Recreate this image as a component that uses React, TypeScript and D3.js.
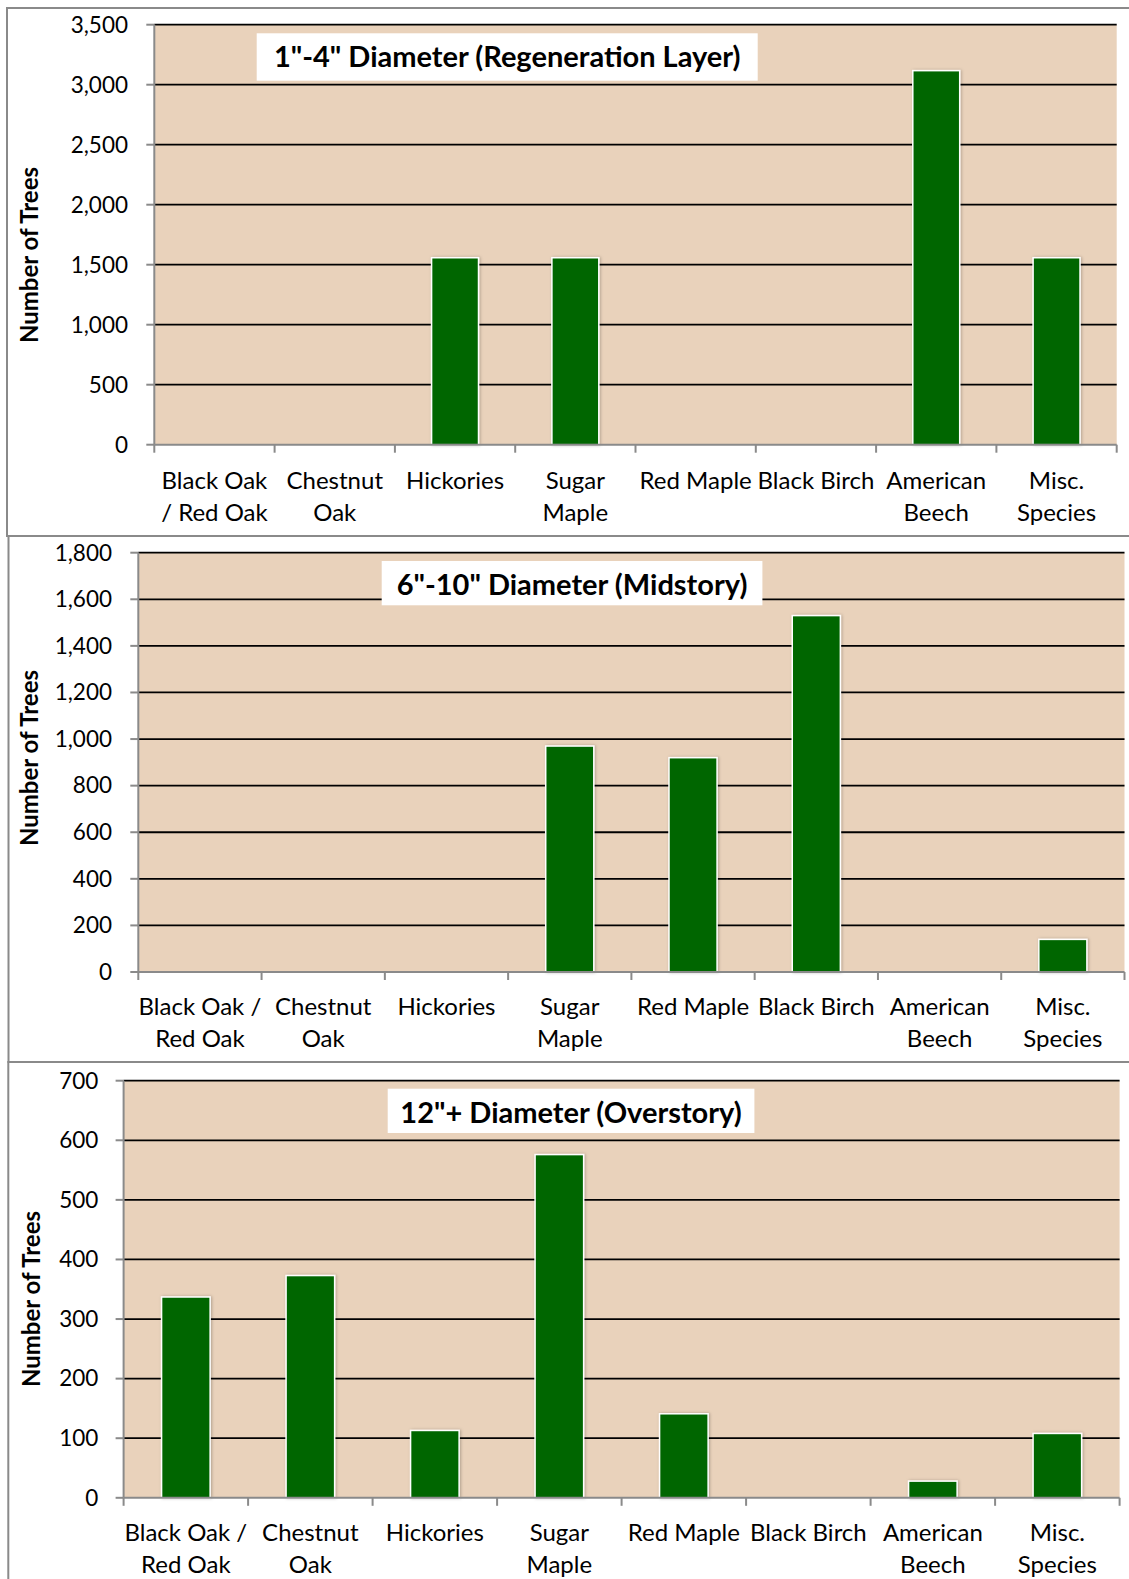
import React from "react";
import * as d3 from "d3";

// ---------- DATA ----------
const categories = [
  "Black Oak / Red Oak",
  "Chestnut Oak",
  "Hickories",
  "Sugar Maple",
  "Red Maple",
  "Black Birch",
  "American Beech",
  "Misc. Species",
];
const labelsTop: string[][] = [
  ["Black Oak", "/ Red Oak"],
  ["Chestnut", "Oak"],
  ["Hickories"],
  ["Sugar", "Maple"],
  ["Red Maple"],
  ["Black Birch"],
  ["American", "Beech"],
  ["Misc.", "Species"],
];
const labelsLower: string[][] = [
  ["Black Oak /", "Red Oak"],
  ["Chestnut", "Oak"],
  ["Hickories"],
  ["Sugar", "Maple"],
  ["Red Maple"],
  ["Black Birch"],
  ["American", "Beech"],
  ["Misc.", "Species"],
];
const regenValues = [0, 0, 1558, 1558, 0, 0, 3117, 1558];
const midValues = [0, 0, 0, 970, 920, 1530, 0, 140];
const overValues = [337, 373, 113, 576, 141, 0, 28, 108];

const regenTicks = [0, 500, 1000, 1500, 2000, 2500, 3000, 3500];
const midTicks = [0, 200, 400, 600, 800, 1000, 1200, 1400, 1600, 1800];
const overTicks = [0, 100, 200, 300, 400, 500, 600, 700];

const titles = [
  '1"-4" Diameter (Regeneration Layer)',
  '6"-10" Diameter (Midstory)',
  '12"+ Diameter (Overstory)',
];
const axisTitle = "Number of Trees";

// ---------- STYLE ----------
const FONT = "Lato, 'Open Sans', sans-serif";
const BG = "#E9D2BB";
const BAR = "#006600";
const GREY = "#8a8a8a";

type Panel = {
  values: number[];
  ticks: number[];
  labels: string[][];
  title: string;
  left: number;
  right: number;
  top: number;
  bottom: number;
  tickLabelRight: number;
  titleBox: [number, number, number, number];
  labelBase: number;
  axisTitleX: number;
  axisTitleY: number;
  border: [number, number, number, number];
};

const panels: Panel[] = [
  {
    values: regenValues,
    ticks: regenTicks,
    labels: labelsTop,
    title: titles[0],
    left: 154.3,
    right: 1116.7,
    top: 24.7,
    bottom: 444.7,
    tickLabelRight: 128,
    titleBox: [256.7, 33.3, 501, 47.4],
    labelBase: 489,
    axisTitleX: 30,
    axisTitleY: 255,
    border: [7, 8, 1200, 536],
  },
  {
    values: midValues,
    ticks: midTicks,
    labels: labelsLower,
    title: titles[1],
    left: 138.3,
    right: 1124.5,
    top: 552.7,
    bottom: 972,
    tickLabelRight: 112,
    titleBox: [381.7, 561, 380.7, 44.3],
    labelBase: 1015,
    axisTitleX: 30,
    axisTitleY: 758,
    border: [8.5, 536, 1200, 1062],
  },
  {
    values: overValues,
    ticks: overTicks,
    labels: labelsLower,
    title: titles[2],
    left: 123.6,
    right: 1119.6,
    top: 1080.7,
    bottom: 1497.8,
    tickLabelRight: 98.3,
    titleBox: [387.7, 1088.7, 366.7, 44.3],
    labelBase: 1541,
    axisTitleX: 32,
    axisTitleY: 1299,
    border: [8.3, 1062, 1200, 1700],
  },
];

const fmt = d3.format(",");

function ChartPanel({ p }: { p: Panel }) {
  const maxV = p.ticks[p.ticks.length - 1];
  const y = d3.scaleLinear().domain([0, maxV]).range([p.bottom, p.top]);
  const x = d3
    .scaleBand<string>()
    .domain(categories)
    .range([p.left, p.right])
    .paddingInner(0.61)
    .paddingOuter(0.305);
  const step = x.step();
  const edges = d3.range(categories.length + 1).map((i) => p.left + i * step);
  const [bx, by, bw, bh] = p.titleBox;
  const [x0, y0, x1, y1] = p.border;
  return (
    <g>
      <path
        d={`M${x1},${y0}H${x0}V${y1}H${x1}`}
        fill="none"
        stroke={GREY}
        strokeWidth={2}
      />
      <rect
        x={p.left}
        y={p.top}
        width={p.right - p.left}
        height={p.bottom - p.top}
        fill={BG}
      />
      {p.ticks.slice(1).map((t) => (
        <line
          key={"g" + t}
          x1={p.left}
          x2={p.right}
          y1={y(t)}
          y2={y(t)}
          stroke="#000"
          strokeWidth={1.8}
        />
      ))}
      {p.values.map((v, i) =>
        v > 0 ? (
          <rect
            key={"b" + i}
            x={x(categories[i])}
            y={y(v)}
            width={x.bandwidth()}
            height={p.bottom - y(v)}
            fill={BAR}
            stroke="#ffffff"
            strokeWidth={1.5}
            filter="url(#shadow)"
          />
        ) : null
      )}
      <line
        x1={p.left}
        x2={p.left}
        y1={p.top}
        y2={p.bottom}
        stroke={GREY}
        strokeWidth={2}
      />
      {p.ticks.map((t) => (
        <g key={"t" + t}>
          <line
            x1={p.left - 8}
            x2={p.left}
            y1={y(t)}
            y2={y(t)}
            stroke={GREY}
            strokeWidth={2}
          />
          <text
            x={p.tickLabelRight}
            y={y(t) + 7.8}
            textAnchor="end"
            fontFamily={FONT}
            fontSize={22.5}
            fill="#000"
          >
            {fmt(t)}
          </text>
        </g>
      ))}
      <line
        x1={p.left}
        x2={p.right}
        y1={p.bottom}
        y2={p.bottom}
        stroke={GREY}
        strokeWidth={2}
      />
      {edges.map((ex, i) => (
        <line
          key={"xt" + i}
          x1={ex}
          x2={ex}
          y1={p.bottom}
          y2={p.bottom + 8}
          stroke={GREY}
          strokeWidth={2}
        />
      ))}
      {p.labels.map((lines, i) => (
        <text
          key={"l" + i}
          textAnchor="middle"
          fontFamily={FONT}
          fontSize={24}
          fill="#000"
        >
          {lines.map((ln, j) => (
            <tspan
              key={j}
              x={(x(categories[i]) as number) + x.bandwidth() / 2}
              y={p.labelBase + j * 32}
            >
              {ln}
            </tspan>
          ))}
        </text>
      ))}
      <rect x={bx} y={by} width={bw} height={bh} fill="#ffffff" />
      <text
        x={bx + bw / 2}
        y={by + 34}
        textAnchor="middle"
        fontFamily={FONT}
        fontWeight="bold"
        fontSize={29}
        fill="#000"
      >
        {p.title}
      </text>
      <text
        transform={`translate(${p.axisTitleX + 8},${p.axisTitleY}) rotate(-90)`}
        textAnchor="middle"
        fontFamily={FONT}
        fontWeight="bold"
        fontSize={24}
        fill="#000"
      >
        {axisTitle}
      </text>
    </g>
  );
}

export default function App() {
  return (
    <div style={{ position: "absolute", left: 0, top: 0 }}>
      <svg width={1129} height={1579} style={{ display: "block", background: "#fff" }}>
        <defs>
          <filter id="shadow" x="-20%" y="-20%" width="140%" height="140%">
            <feDropShadow dx="1" dy="0" stdDeviation="1.5" floodColor="#000" floodOpacity="0.25" />
          </filter>
        </defs>
        {panels.map((p, i) => (
          <ChartPanel key={i} p={p} />
        ))}
      </svg>
    </div>
  );
}
